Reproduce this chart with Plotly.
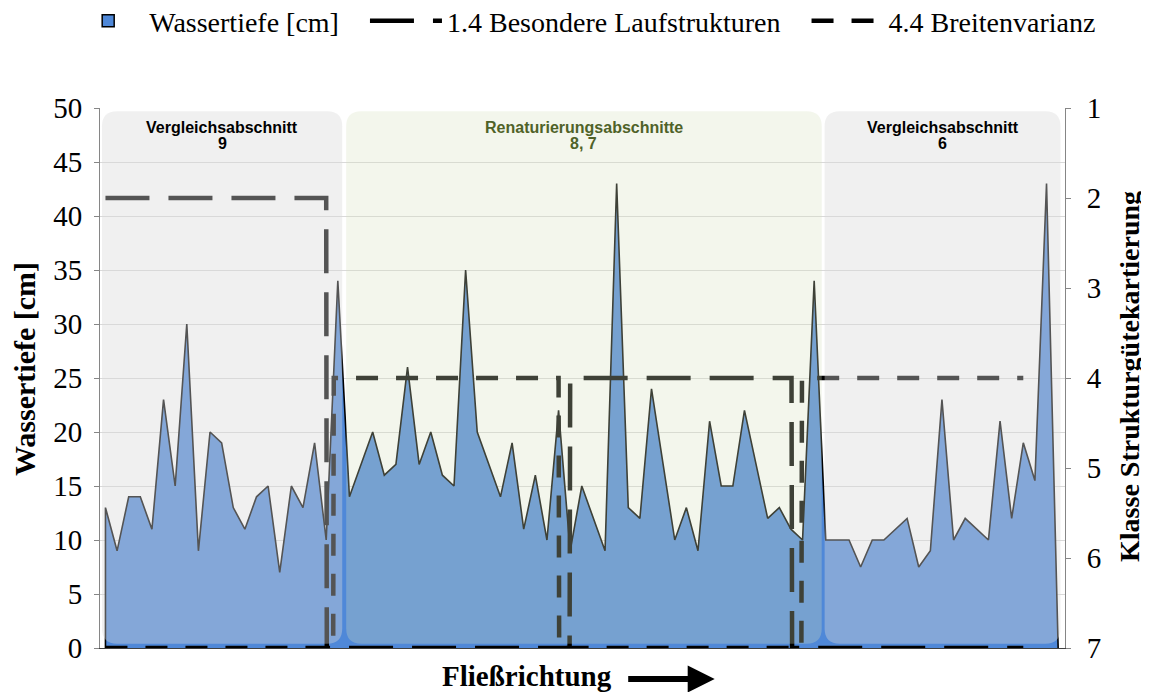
import plotly.graph_objects as go

# Wassertiefe per measuring point (flow direction left -> right)
depth = [13, 9, 14, 14, 11, 23, 15, 30, 9, 20, 19, 13, 11, 14, 15, 7, 15, 13, 19, 10, 34,
         14, 17, 20, 16, 17, 26, 17, 20, 16, 15, 35, 20, 17, 14, 19, 11, 16, 10, 22, 9,
         15, 12, 9, 43, 13, 12, 24, 17, 10, 13, 9, 21, 15, 15, 22, 17, 12, 13, 11, 10, 34,
         10, 10, 10, 7.5, 10, 10, 11, 12, 7.5, 9, 23, 10, 12, 11, 10, 21, 12, 19, 15.5, 43, 1]
points = list(range(len(depth)))

# Strukturgüte classes as step lines (x in measuring-point units)
lauf_x = [0, 19.0, 19.05, 39.95, 40.0, 59.05, 59.1, 79]
lauf_y = [2, 2, 7, 7, 4, 4, 7, 7]
breite_x = [0, 19.6, 19.65, 39.0, 39.05, 59.9, 59.95, 79]
breite_y = [7, 7, 4, 4, 7, 7, 4, 4]

sections = [
    ("Vergleichsabschnitt", "9", -0.3, 20.38, "grey"),
    ("Renaturierungsabschnitte", "8, 7", 20.72, 61.65, "green"),
    ("Vergleichsabschnitt", "6", 61.9, 82.2, "grey"),
]

serif = "Liberation Serif"
gap = "\u00a0" * 3

fig = go.Figure()

fig.add_trace(go.Scatter(
    x=[points[0]] + points + [points[-1]],
    y=[0] + depth + [0],
    mode="lines",
    fill="tozeroy",
    fillcolor="#4f88d8",
    line=dict(color="black", width=1.6),
    showlegend=False,
    hoverinfo="skip",
))

# legend entry for the area
fig.add_trace(go.Bar(
    x=[None], y=[None],
    name="Wassertiefe [cm]" + gap,
    marker=dict(color="#4f88d8", line=dict(color="black", width=1.5)),
))

fig.add_trace(go.Scatter(
    x=lauf_x, y=lauf_y, yaxis="y2",
    mode="lines",
    name="1.4 Besondere Laufstrukturen" + gap,
    line=dict(color="black", width=4.5, dash="44px,19px"),
))

fig.add_trace(go.Scatter(
    x=breite_x, y=breite_y, yaxis="y2",
    mode="lines",
    name="4.4 Breitenvarianz",
    line=dict(color="black", width=4.5, dash="22px,18px"),
))


def rounded(x0, x1, y0, y1, rx, ry):
    return (f"M{x0 + rx},{y0} L{x1 - rx},{y0} Q{x1},{y0} {x1},{y0 + ry} "
            f"L{x1},{y1 - ry} Q{x1},{y1} {x1 - rx},{y1} L{x0 + rx},{y1} "
            f"Q{x0},{y1} {x0},{y1 - ry} L{x0},{y0 + ry} Q{x0},{y0} {x0 + rx},{y0} Z")


fills = {"grey": "rgba(216,216,216,0.39)", "green": "rgba(214,224,190,0.29)"}
label_colors = {"grey": "black", "green": "#4f6228"}

for title, num, x0, x1, kind in sections:
    fig.add_shape(
        type="path",
        path=rounded(x0, x1, 0.4, 49.7, 1.3, 1.4),
        xref="x", yref="y",
        fillcolor=fills[kind],
        line=dict(width=0),
        layer="above",
    )
    for txt, yy in ((title, 48.15), (num, 46.75)):
        fig.add_annotation(
            x=(x0 + x1) / 2, y=yy, xref="x", yref="y",
            text=f"<b>{txt}</b>", showarrow=False,
            yanchor="middle",
            font=dict(family="Liberation Sans", size=16, color=label_colors[kind]),
        )

fig.add_annotation(
    x=0.443, y=-0.086, xref="paper", yref="paper",
    xanchor="center", yanchor="bottom",
    text="<b>Fließrichtung</b>", showarrow=False,
    font=dict(family=serif, size=29, color="black"),
)
fig.add_annotation(
    x=0.637, y=-0.0574, xref="paper", yref="paper",
    ax=-88, ay=0, axref="pixel", ayref="pixel",
    text="", showarrow=True,
    arrowhead=2, arrowsize=0.9, arrowwidth=6, arrowcolor="black",
)
fig.add_annotation(
    x=-0.0777, y=0.5167, xref="paper", yref="paper",
    xanchor="center", yanchor="middle", textangle=-90,
    text="<b>Wassertiefe [cm]</b>", showarrow=False,
    font=dict(family=serif, size=30, color="black"),
)
fig.add_annotation(
    x=1.0674, y=0.502, xref="paper", yref="paper",
    xanchor="center", yanchor="middle", textangle=-90,
    text="<b>Klasse Strukturgütekartierung</b>", showarrow=False,
    font=dict(family=serif, size=28, color="black"),
)

fig.update_layout(
    width=1141,
    height=684,
    plot_bgcolor="white",
    paper_bgcolor="white",
    margin=dict(l=92, r=84, t=100, b=44, autoexpand=False),
    font=dict(family=serif, size=28, color="black"),
    showlegend=True,
    legend=dict(
        orientation="h",
        x=-0.034, xanchor="left",
        y=1.161, yanchor="middle",
        font=dict(family=serif, size=28),
        itemwidth=72,
        bgcolor="rgba(0,0,0,0)",
    ),
    xaxis=dict(
        range=[-0.47, 82.59],
        showticklabels=False,
        showgrid=False,
        zeroline=False,
        ticks="",
        showline=True,
        linecolor="#404040",
        linewidth=1,
        automargin=False,
    ),
    yaxis=dict(
        range=[0, 50],
        dtick=5,
        showgrid=True,
        gridcolor="#d9d9d9",
        gridwidth=1,
        zeroline=False,
        showline=True,
        linecolor="#868686",
        ticks="outside",
        ticklen=5,
        tickcolor="#868686",
        tickfont=dict(size=29),
        ticklabelstandoff=6,
        automargin=False,
    ),
    yaxis2=dict(
        overlaying="y",
        side="right",
        range=[7, 1],
        dtick=1,
        showgrid=False,
        zeroline=False,
        showline=True,
        linecolor="#868686",
        ticks="outside",
        ticklen=5,
        tickcolor="#868686",
        tickfont=dict(size=29),
        ticklabelstandoff=10,
        automargin=False,
    ),
)

fig.write_html("out.html")
